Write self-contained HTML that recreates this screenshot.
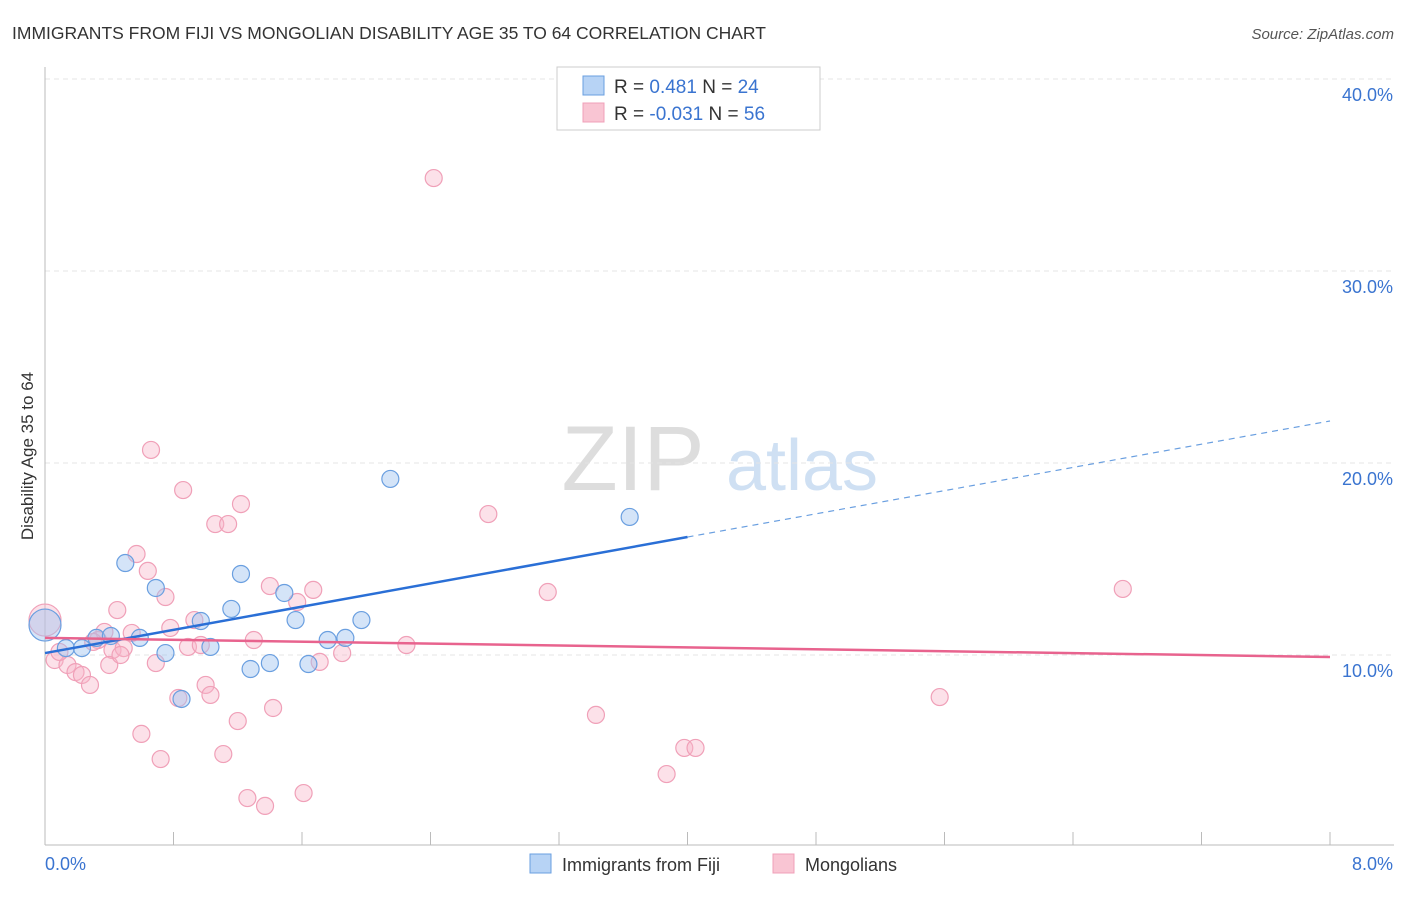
<!DOCTYPE html>
<html><head><meta charset="utf-8"><style>
body{margin:0;background:#fff;font-family:"Liberation Sans",sans-serif;}
svg text{font-family:"Liberation Sans",sans-serif;}
</style></head><body>
<svg id="c" width="1406" height="892" viewBox="0 0 1406 892" xmlns="http://www.w3.org/2000/svg">
<text x="12" y="39" font-size="17.5" fill="#333">IMMIGRANTS FROM FIJI VS MONGOLIAN DISABILITY AGE 35 TO 64 CORRELATION CHART</text>
<text x="1394" y="39" font-size="15" fill="#555" text-anchor="end" font-style="italic">Source: ZipAtlas.com</text>
<text transform="translate(33,456) rotate(-90)" font-size="17" fill="#333" text-anchor="middle">Disability Age 35 to 64</text>
<g>
<text x="633" y="490" font-size="92" fill="#ddd" font-family="Liberation Serif" text-anchor="middle">ZIP</text>
<text x="802" y="490" font-size="72" fill="#cfe0f3" text-anchor="middle">atlas</text>
</g>
<g id="grid"></g>
<g id="marks"></g>
<g>
<rect x="557" y="67" width="263" height="63" fill="#fff" stroke="#ccc"/>
<rect x="583" y="76" width="21" height="19" fill="#b7d3f5" stroke="#6a9fe0"/>
<rect x="583" y="103" width="21" height="19" fill="#f9c5d3" stroke="#f0a0b8"/>
<text x="614" y="93" font-size="19" fill="#333">R =  <tspan fill="#3a74d0">  0.481</tspan>   N = <tspan fill="#3a74d0">24</tspan></text>
<text x="614" y="120" font-size="19" fill="#333">R = <tspan fill="#3a74d0">-0.031</tspan>   N = <tspan fill="#3a74d0">56</tspan></text>
</g>
<g>
<rect x="530" y="854" width="21" height="19" fill="#b7d3f5" stroke="#6a9fe0"/>
<text x="562" y="871" font-size="18" fill="#333">Immigrants from Fiji</text>
<rect x="773" y="854" width="21" height="19" fill="#f9c5d3" stroke="#f0a0b8"/>
<text x="805" y="871" font-size="18" fill="#333">Mongolians</text>
</g>
</svg>
<script>
const yTicks=[10,20,30,40];
const yTickLabels=["10.0%","20.0%","30.0%","40.0%"];
const xTickLabels=["0.0%","8.0%"];
const fijiX=[0.00,0.13,0.23,0.32,0.41,0.50,0.59,0.69,0.75,0.85,0.97,1.03,1.16,1.22,1.28,1.40,1.49,1.56,1.64,1.76,1.87,1.97,2.15,3.64];
const fijiY=[11.56,10.36,10.36,10.89,10.99,14.79,10.89,13.49,10.10,7.71,11.77,10.42,12.40,14.22,9.27,9.58,13.23,11.82,9.53,10.78,10.89,11.82,19.17,17.19];
const mongX=[0.00,0.06,0.14,0.19,0.23,0.28,0.09,0.33,0.37,0.42,0.40,0.45,0.49,0.54,0.57,0.64,0.66,0.69,0.75,0.78,0.83,0.72,0.60,0.86,0.89,0.93,0.97,1.00,1.03,1.06,1.14,1.11,1.20,1.22,1.26,1.30,1.37,1.40,1.42,1.57,1.61,1.67,1.71,1.85,2.25,2.42,2.76,3.13,3.43,3.87,3.98,4.05,5.57,6.71,0.30,0.47];
const mongY=[11.82,9.74,9.48,9.11,8.96,8.44,10.16,10.78,11.20,10.26,9.48,12.34,10.36,11.15,15.26,14.38,20.68,9.58,13.02,11.41,7.76,4.58,5.89,18.59,10.42,11.82,10.52,8.44,7.92,16.82,16.82,4.84,6.56,17.86,2.55,10.78,2.14,13.59,7.24,12.76,2.81,13.39,9.64,10.10,10.52,34.84,17.34,13.28,6.88,3.80,5.16,5.16,7.81,13.44,10.68,10.00];
const fijiTrend=[10.10,1.511]; // intercept, slope
const mongTrend=[10.89,-0.124];
const X=v=>45+v/8*1285, Y=v=>847-v*19.2;
const NS="http://www.w3.org/2000/svg";
function mk(p,t,a){const e=document.createElementNS(NS,t);for(const k in a)e.setAttribute(k,a[k]);p.appendChild(e);return e;}
const g=document.getElementById('grid'), m=document.getElementById('marks');
yTicks.forEach((t,i)=>{
 const l=mk(g,'line',{x1:45,x2:1394,y1:Y(t),y2:Y(t),stroke:'#e4e4e4','stroke-dasharray':'5,4'});
 
 
 const tx=mk(g,'text',{x:1393,y:Y(t)+22,'font-size':18,fill:'#3a74d0','text-anchor':'end'});tx.textContent=yTickLabels[i];
 
 
});
const ax=mk(g,'line',{x1:45,x2:45,y1:67,y2:845,stroke:'#bbb'});


const bx=mk(g,'line',{x1:45,x2:1394,y1:845,y2:845,stroke:'#bbb'});


for(let i=0;i<=10;i++){const tk=mk(g,'line',{x1:X(i*0.8),x2:X(i*0.8),y1:832,y2:845,stroke:'#bbb'});
 
 }
[[0,45,'start'],[8,1393,'end']].forEach((d,i)=>{const t=mk(g,'text',{x:d[1],y:870,'font-size':18,fill:'#3a74d0','text-anchor':d[2]});t.textContent=xTickLabels[i];
 
 });
function dots(xs,ys,fill,stroke,name){xs.forEach((x,i)=>{const c=mk(m,'circle',{cx:X(x),cy:Y(ys[i]),r:i===0?16:8.5,fill:fill,stroke:stroke,'stroke-width':1.2});
 
 });}
dots(mongX,mongY,'rgba(248,180,200,0.4)','#f0a0b8','mongolian-point');
dots(fijiX,fijiY,'rgba(160,196,240,0.45)','#6a9fe0','fiji-point');
const f=x=>fijiTrend[0]+fijiTrend[1]*x, p=x=>mongTrend[0]+mongTrend[1]*x;
const l1=mk(m,'line',{x1:X(0),y1:Y(f(0)),x2:X(4),y2:Y(f(4)),stroke:'#2a6fd6','stroke-width':2.5});


const l2=mk(m,'line',{x1:X(4),y1:Y(f(4)),x2:X(8),y2:Y(f(8)),stroke:'#6a9fe0','stroke-width':1.2,'stroke-dasharray':'6,5'});


const l3=mk(m,'line',{x1:X(0),y1:Y(p(0)),x2:X(8),y2:Y(p(8)),stroke:'#e8638e','stroke-width':2.5});


</script>
</body></html>
